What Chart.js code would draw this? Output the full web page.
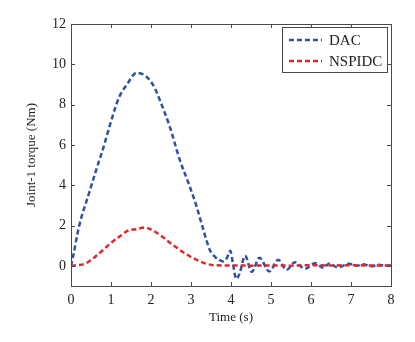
<!DOCTYPE html>
<html>
<head>
<meta charset="utf-8">
<script src="https://cdn.jsdelivr.net/npm/chart.js@4.4.1/dist/chart.umd.min.js"></script>
<style>
    html, body { margin: 0; padding: 0; background: #fff; }
    #wrap { width: 415px; height: 342px; }
</style>
</head>
<body>
<div id="wrap"><canvas id="torqueChart" width="415" height="342"></canvas></div>
<script>
// Joint-1 torque, DAC vs NSPIDC

const xTicks = [0, 1, 2, 3, 4, 5, 6, 7, 8];
const yTicks = [0, 2, 4, 6, 8, 10, 12];

const dacTime = [0, 0.05, 0.2, 0.45, 0.63, 0.8, 0.96, 1.1, 1.21, 1.42, 1.55, 1.64, 1.8, 1.97, 2.1, 2.22, 2.47, 2.72, 2.97, 3.14, 3.31, 3.47, 3.6, 3.7, 3.81, 3.9, 3.98, 4.05, 4.13, 4.22, 4.35, 4.52, 4.71, 4.96, 5.18, 5.39, 5.6, 5.85, 6.1, 6.31, 6.46, 6.67, 6.95, 7.15, 7.3, 7.5, 7.7, 7.85, 8];
const dacTorque = [0, 0.45, 1.95, 3.6, 4.76, 5.8, 6.9, 7.8, 8.4, 9.06, 9.45, 9.58, 9.5, 9.22, 8.8, 8.23, 6.9, 5.26, 3.93, 2.94, 1.78, 0.79, 0.45, 0.3, 0.22, 0.4, 0.75, 0.1, -0.65, -0.35, 0.5, -0.3, 0.4, -0.28, 0.3, -0.2, 0.18, -0.15, 0.13, -0.1, 0.12, -0.08, 0.1, 0.0, 0.08, -0.02, 0.06, 0.0, 0.02];

const nspidcTime = [0, 0.13, 0.38, 0.71, 1.04, 1.25, 1.38, 1.47, 1.63, 1.85, 2.0, 2.22, 2.47, 2.72, 2.95, 3.14, 3.39, 3.6, 4, 4.5, 5, 5.5, 6, 6.5, 7, 7.5, 8];
const nspidcTorque = [0, 0.03, 0.13, 0.63, 1.2, 1.5, 1.7, 1.78, 1.82, 1.9, 1.8, 1.54, 1.15, 0.79, 0.5, 0.3, 0.1, 0.03, 0.02, 0.01, 0.02, 0.01, 0.03, 0.02, 0.03, 0.02, 0.02];

const frameColor = '#4a4a4a';
const serif = '"Liberation Serif", "DejaVu Serif", serif';

function toPoints(xs, ys) {
    return xs.map((x, i) => ({ x: x, y: ys[i] }));
}

// box round the plot with inward tick marks on all four sides
const framePlugin = {
    id: 'frame',
    afterDraw(chart) {
        const ctx = chart.ctx;
        const a = chart.chartArea;
        const xs = chart.scales.x, ys = chart.scales.y;
        const len = 4;
        ctx.save();
        ctx.strokeStyle = frameColor;
        ctx.lineWidth = 1;
        ctx.strokeRect(a.left + 0.5, a.top + 0.5, a.right - a.left, a.bottom - a.top);
        ctx.beginPath();
        xTicks.forEach(v => {
            const px = Math.round(xs.getPixelForValue(v)) + 0.5;
            ctx.moveTo(px, a.bottom); ctx.lineTo(px, a.bottom - len);
            ctx.moveTo(px, a.top); ctx.lineTo(px, a.top + len);
        });
        yTicks.forEach(v => {
            const py = Math.round(ys.getPixelForValue(v)) + 0.5;
            ctx.moveTo(a.left, py); ctx.lineTo(a.left + len, py);
            ctx.moveTo(a.right, py); ctx.lineTo(a.right - len, py);
        });
        ctx.stroke();
        ctx.restore();
    }
};

// legend box in the upper right corner
const legendPlugin = {
    id: 'boxLegend',
    afterDraw(chart) {
        const ctx = chart.ctx;
        const box = { x: 282, y: 27, w: 105, h: 45 };
        ctx.save();
        ctx.fillStyle = '#fff';
        ctx.fillRect(box.x, box.y, box.w, box.h);
        ctx.strokeStyle = frameColor;
        ctx.lineWidth = 1;
        ctx.strokeRect(box.x + 0.5, box.y + 0.5, box.w, box.h);
        ctx.font = '15px ' + serif;
        ctx.textBaseline = 'middle';
        chart.data.datasets.forEach((ds, i) => {
            const y = box.y + 13 + i * 21;
            ctx.strokeStyle = ds.borderColor;
            ctx.lineWidth = ds.borderWidth;
            ctx.setLineDash(ds.borderDash);
            ctx.beginPath();
            ctx.moveTo(box.x + 7, y);
            ctx.lineTo(box.x + 40, y);
            ctx.stroke();
            ctx.setLineDash([]);
            ctx.fillStyle = '#222';
            ctx.fillText(ds.label, box.x + 47, y + 1);
        });
        ctx.restore();
    }
};

new Chart(document.getElementById('torqueChart'), {
    type: 'line',
    data: {
        datasets: [
            {
                label: 'DAC',
                data: toPoints(dacTime, dacTorque),
                borderColor: '#2b52a3',
                borderWidth: 2.5,
                borderDash: [5, 3],
                pointRadius: 0,
                cubicInterpolationMode: 'monotone',
                order: 1
            },
            {
                label: 'NSPIDC',
                data: toPoints(nspidcTime, nspidcTorque),
                borderColor: '#e0282b',
                borderWidth: 2.5,
                borderDash: [5, 3],
                pointRadius: 0,
                cubicInterpolationMode: 'monotone',
                order: 0
            }
        ]
    },
    options: {
        responsive: false,
        animation: false,
        layout: { padding: { top: 24, right: 24, left: 0, bottom: 0 } },
        plugins: {
            legend: { display: false },
            tooltip: { enabled: false }
        },
        scales: {
            x: {
                type: 'linear',
                min: 0,
                max: 8,
                afterBuildTicks: s => { s.ticks = xTicks.map(v => ({ value: v })); },
                afterFit: s => { s.height = 56; },
                grid: { display: false, drawTicks: false },
                border: { display: false },
                ticks: { color: '#222', padding: 6, font: { family: serif, size: 14 } },
                title: {
                    display: true,
                    text: 'Time (s)',
                    color: '#222',
                    padding: { top: 0, bottom: 17 },
                    font: { family: serif, size: 13 }
                }
            },
            y: {
                min: -1,
                max: 12,
                afterBuildTicks: s => { s.ticks = yTicks.map(v => ({ value: v })); },
                afterFit: s => { s.width = 71; },
                grid: { display: false, drawTicks: false },
                border: { display: false },
                ticks: { color: '#222', padding: 5, font: { family: serif, size: 14 } },
                title: {
                    display: true,
                    text: 'Joint-1 torque (Nm)',
                    color: '#222',
                    padding: { top: 24, bottom: 0 },
                    font: { family: serif, size: 13 }
                }
            }
        }
    },
    plugins: [framePlugin, legendPlugin]
});
</script>
</body>
</html>
